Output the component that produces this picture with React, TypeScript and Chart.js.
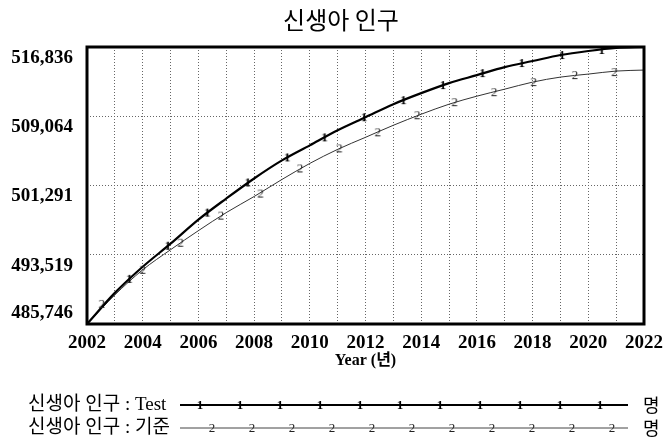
import React, { useEffect, useRef } from 'react';
import { Chart, registerables } from 'chart.js';

Chart.register(...registerables);

const chartTitle = '신생아 인구';
const xAxisTitle = 'Year (년)';
const unitLabel = '명';
const seriesNames = ['신생아 인구 : Test', '신생아 인구 : 기준'];

const years = [2002, 2003, 2004, 2005, 2006, 2007, 2008, 2009, 2010, 2011, 2012, 2013, 2014, 2015, 2016, 2017, 2018, 2019, 2020, 2021, 2022];
const testValues = [485746, 489238, 492167, 494758, 497462, 499827, 502080, 504108, 505798, 507487, 508952, 510416, 511656, 512782, 513683, 514584, 515260, 515936, 516387, 516725, 516836];
const baseValues = [485746, 489013, 491829, 494082, 496222, 498250, 500053, 501968, 503770, 505347, 506699, 508051, 509290, 510416, 511318, 512106, 512895, 513458, 513796, 514134, 514246];

const testMarkerYears = [2003.52, 2004.9, 2006.32, 2007.77, 2009.19, 2010.53, 2011.95, 2013.36, 2014.78, 2016.2, 2017.61, 2019.06, 2020.48];
const testMarkerValues = [490815, 494533, 498250, 501630, 504446, 506699, 508952, 510867, 512557, 513909, 515035, 515936, 516500];
const baseMarkerYears = [2002.53, 2004.0, 2005.36, 2006.81, 2008.23, 2009.65, 2011.06, 2012.44, 2013.86, 2015.2, 2016.62, 2018.04, 2019.52, 2020.94];
const baseMarkerValues = [488000, 491829, 494871, 497912, 500391, 503207, 505460, 507262, 509177, 510642, 511768, 512895, 513683, 514021];

const yTickValues = [485746, 493519, 501291, 509064, 516836];
const yTickLabels = ['485,746', '493,519', '501,291', '509,064', '516,836'];
const xTickLabels = ['2002', '2004', '2006', '2008', '2010', '2012', '2014', '2016', '2018', '2020', '2022'];

function makeGlyph(ch: string, font: string, color: string, w: number, h: number) {
  const c = document.createElement('canvas');
  c.width = w;
  c.height = h;
  const g = c.getContext('2d')!;
  g.font = font;
  g.fillStyle = color;
  g.textAlign = 'center';
  g.textBaseline = 'middle';
  g.fillText(ch, w / 2, h / 2 + 1);
  return c;
}

export default function App() {
  const ref = useRef<HTMLCanvasElement | null>(null);

  useEffect(() => {
    if (!ref.current) return;
    const glyph1 = makeGlyph('1', 'bold 13px "Liberation Serif"', '#000', 10, 14);
    const glyph2 = makeGlyph('2', '13px "Liberation Serif"', '#222', 10, 14);

    const framePlugin = {
      id: 'frame',
      afterDatasetsDraw(chart: any) {
        const { ctx, chartArea } = chart;
        ctx.save();
        ctx.strokeStyle = '#000';
        ctx.lineWidth = 3;
        ctx.strokeRect(chartArea.left, chartArea.top, chartArea.right - chartArea.left, chartArea.bottom - chartArea.top);
        ctx.restore();
      },
      afterDraw(chart: any) {
        const { ctx } = chart;
        ctx.save();
        // title
        ctx.font = '24px "Noto Sans CJK KR"';
        ctx.fillStyle = '#000';
        ctx.textAlign = 'center';
        ctx.textBaseline = 'middle';
        ctx.fillText(chartTitle, 341, 20);
        // legend
        const rows = [
          { y: 405, name: seriesNames[0], glyph: glyph1, lw: 2, color: '#000', start: 200 },
          { y: 428, name: seriesNames[1], glyph: glyph2, lw: 1, color: '#444', start: 212 },
        ];
        rows.forEach((r) => {
          ctx.font = '19px "Liberation Serif", "Noto Sans CJK KR"';
          ctx.fillStyle = '#000';
          ctx.textAlign = 'left';
          ctx.textBaseline = 'middle';
          ctx.fillText(r.name, 28, r.y);
          ctx.strokeStyle = r.color;
          ctx.lineWidth = r.lw;
          ctx.beginPath();
          ctx.moveTo(180, r.y);
          ctx.lineTo(628, r.y);
          ctx.stroke();
          for (let i = 0; i < 11; i++) {
            const x = r.start + i * 40;
            ctx.drawImage(r.glyph, x - r.glyph.width / 2, r.y - r.glyph.height / 2);
          }
          ctx.font = '18px "Noto Sans CJK KR"';
          ctx.fillStyle = '#000';
          ctx.fillText(unitLabel, 643, r.y);
        });
        ctx.restore();
      },
    };

    const chart = new Chart(ref.current, {
      type: 'line',
      data: {
        datasets: [
          {
            label: 'testMarkers',
            data: testMarkerYears.map((x, i) => ({ x, y: testMarkerValues[i] })),
            showLine: false,
            pointStyle: glyph1 as any,
            pointRadius: 4,
            borderColor: '#000',
          },
          {
            label: 'baseMarkers',
            data: baseMarkerYears.map((x, i) => ({ x, y: baseMarkerValues[i] })),
            showLine: false,
            pointStyle: glyph2 as any,
            pointRadius: 4,
            borderColor: '#333',
          },
          {
            label: seriesNames[0],
            data: years.map((x, i) => ({ x, y: testValues[i] })),
            borderColor: '#000',
            borderWidth: 2.2,
            pointRadius: 0,
            cubicInterpolationMode: 'monotone',
          },
          {
            label: seriesNames[1],
            data: years.map((x, i) => ({ x, y: baseValues[i] })),
            borderColor: '#333',
            borderWidth: 1,
            pointRadius: 0,
            cubicInterpolationMode: 'monotone',
          },
        ],
      },
      options: {
        animation: false,
        responsive: false,
        layout: { padding: { left: 0, right: 20, top: 47, bottom: 77 } },
        plugins: {
          legend: { display: false },
          tooltip: { enabled: false },
          title: { display: false },
        },
        scales: {
          x: {
            type: 'linear',
            min: 2002,
            max: 2022,
            border: { display: false, dash: [1, 2] },
            grid: { color: '#666', drawTicks: false, lineWidth: 1 },
            ticks: {
              stepSize: 1,
              autoSkip: false,
              maxRotation: 0,
              minRotation: 0,
              padding: 8,
              color: '#000',
              font: { family: '"Liberation Serif"', size: 19, weight: 'bold', lineHeight: 1.2 },
              callback: (v: any) => {
                const s = String(v);
                return xTickLabels.includes(s) ? s : '';
              },
            },
            title: {
              display: true,
              text: xAxisTitle,
              color: '#000',
              padding: { top: 0, bottom: 0 },
              font: { family: '"Liberation Serif", "Noto Sans CJK KR"', size: 16, weight: 'bold', lineHeight: 1.125 },
            },
            afterFit: (scale: any) => {
              scale.height = 46;
            },
          },
          y: {
            type: 'linear',
            min: 485746,
            max: 516836,
            border: { display: false, dash: [1, 2] },
            grid: { color: '#666', drawTicks: false, lineWidth: 1 },
            afterBuildTicks: (scale: any) => {
              scale.ticks = yTickValues.map((v) => ({ value: v }));
            },
            ticks: {
              padding: 14,
              color: '#000',
              font: { family: '"Liberation Serif"', size: 19, weight: 'bold', lineHeight: 1.15 },
              callback: (_v: any, i: number) => {
                const label = yTickLabels[i];
                return i === 0 ? [label, ''] : ['', label];
              },
            },
            afterFit: (scale: any) => {
              scale.width = 87;
            },
          },
        },
      },
      plugins: [framePlugin],
    } as any);

    return () => chart.destroy();
  }, []);

  return (
    <div style={{ position: 'fixed', left: 0, top: 0, width: 671, height: 447, background: '#fff' }}>
      <canvas ref={ref} width={671} height={447} style={{ width: 671, height: 447, display: 'block' }} />
    </div>
  );
}
